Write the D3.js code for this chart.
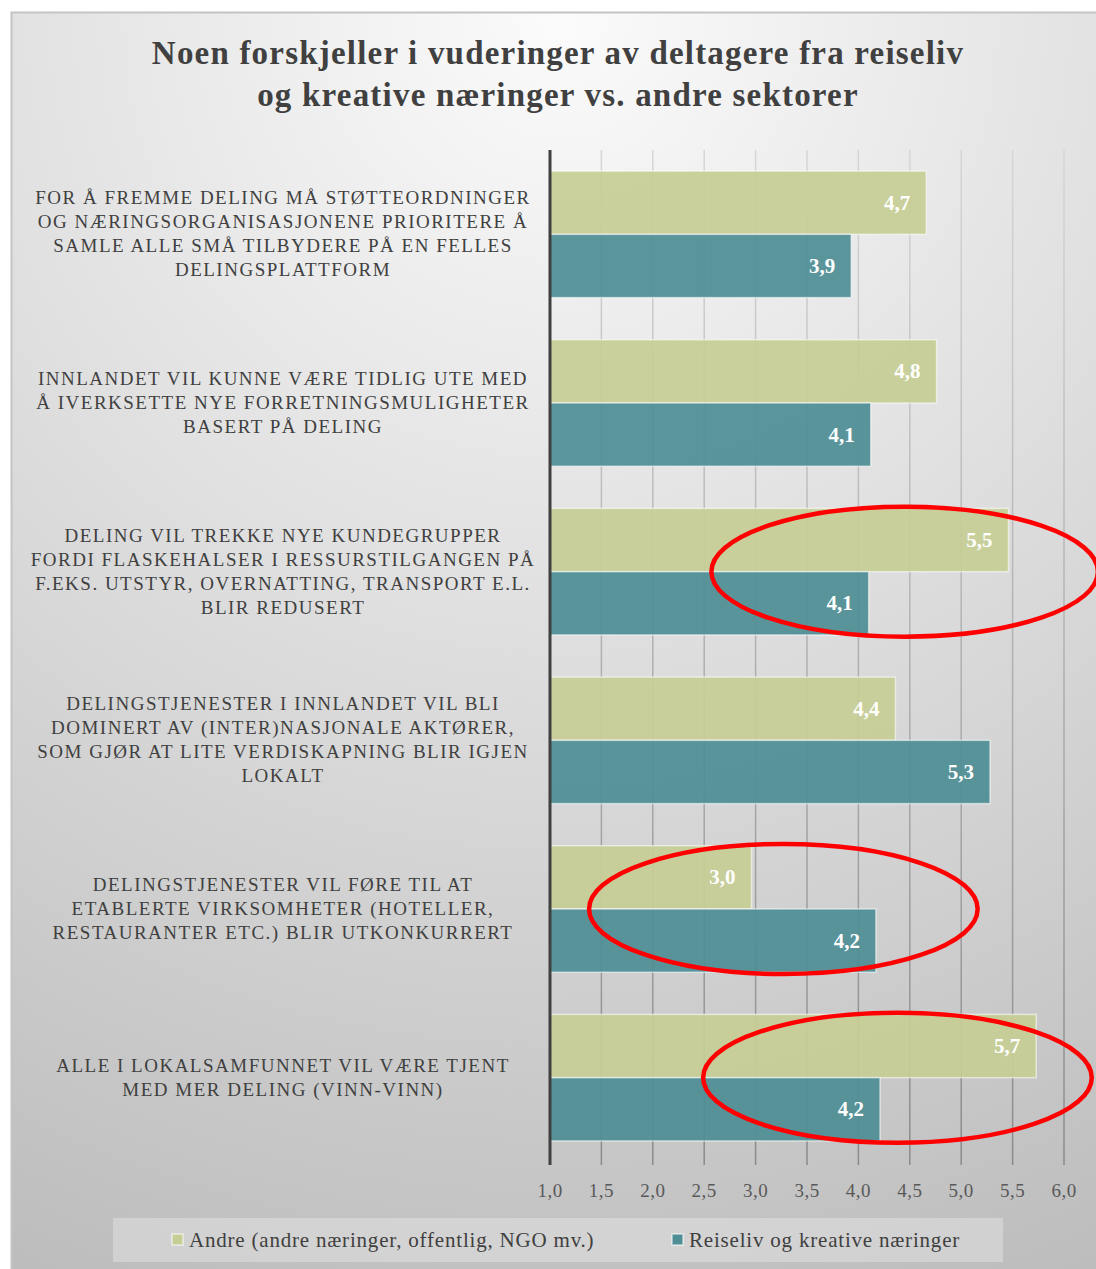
<!DOCTYPE html>
<html>
<head>
<meta charset="utf-8">
<script src="https://cdn.jsdelivr.net/npm/d3@7"></script>
<style>
  body { margin: 0; background: #fff; }
  text { font-family: "Liberation Serif", "DejaVu Serif", serif; }
</style>
</head>
<body>
<div id="chart"></div>
<script>
var w = 1096,
    h = 1269;

// data
var categories = [
    ["FOR Å FREMME DELING MÅ STØTTEORDNINGER", "OG NÆRINGSORGANISASJONENE PRIORITERE Å", "SAMLE ALLE SMÅ TILBYDERE PÅ EN FELLES", "DELINGSPLATTFORM"],
    ["INNLANDET VIL KUNNE VÆRE TIDLIG UTE MED", "Å IVERKSETTE NYE FORRETNINGSMULIGHETER", "BASERT PÅ DELING"],
    ["DELING VIL TREKKE NYE KUNDEGRUPPER", "FORDI FLASKEHALSER I RESSURSTILGANGEN PÅ", "F.EKS. UTSTYR, OVERNATTING, TRANSPORT E.L.", "BLIR REDUSERT"],
    ["DELINGSTJENESTER I INNLANDET VIL BLI", "DOMINERT AV (INTER)NASJONALE AKTØRER,", "SOM GJØR AT LITE VERDISKAPNING BLIR IGJEN", "LOKALT"],
    ["DELINGSTJENESTER VIL FØRE TIL AT", "ETABLERTE VIRKSOMHETER (HOTELLER,", "RESTAURANTER ETC.) BLIR UTKONKURRERT"],
    ["ALLE I LOKALSAMFUNNET VIL VÆRE TJENT", "MED MER DELING (VINN-VINN)"]
];
var andre = [4.66, 4.76, 5.46, 4.36, 2.96, 5.73];
var reiseliv = [3.93, 4.12, 4.10, 5.28, 4.17, 4.21];
var seriesNames = ["Andre (andre næringer, offentlig, NGO mv.)", "Reiseliv og kreative næringer"];
var tickValues = [1.0, 1.5, 2.0, 2.5, 3.0, 3.5, 4.0, 4.5, 5.0, 5.5, 6.0];
// red hand-drawn rings: category index, centre value, half width in value units
var rings = [
    { cat: 2, cx: 4.45, rx: 1.88 },
    { cat: 4, cx: 3.27, rx: 1.89 },
    { cat: 5, cx: 4.38, rx: 1.89 }
];

var palette = {
    green: '#c6cd95',
    teal: '#4f8e95',
    text: '#404040',
    ring: '#ff0000'
};

var svg = d3.select('#chart')
    .append('svg')
    .attr('width', w)
    .attr('height', h);

var defs = svg.append('defs');
var bg = defs.append('radialGradient')
    .attr('id', 'bg')
    .attr('gradientUnits', 'userSpaceOnUse')
    .attr('cx', 560).attr('cy', 20).attr('r', 1350);
bg.append('stop').attr('offset', '0%').attr('stop-color', '#fbfbfb');
bg.append('stop').attr('offset', '100%').attr('stop-color', '#bdbdbd');

var gridGrad = defs.append('linearGradient')
    .attr('id', 'grid')
    .attr('gradientUnits', 'userSpaceOnUse')
    .attr('x1', 0).attr('y1', 150).attr('x2', 0).attr('y2', 1165);
gridGrad.append('stop').attr('offset', '0%').attr('stop-color', '#d6d6d6');
gridGrad.append('stop').attr('offset', '100%').attr('stop-color', '#8a8a8a');

// panel
svg.append('rect')
    .attr('x', 11).attr('y', 12)
    .attr('width', w - 11).attr('height', h - 12)
    .attr('fill', 'url(#bg)');
svg.append('path')
    .attr('d', 'M11.5,' + h + 'V12.5H' + w)
    .attr('fill', 'none')
    .attr('stroke', '#c4c4c4')
    .attr('stroke-width', 2);

// title
svg.append('text')
    .attr('x', 558).attr('y', 64)
    .attr('text-anchor', 'middle')
    .attr('font-size', 33).attr('font-weight', 'bold')
    .attr('letter-spacing', 1.2)
    .attr('fill', palette.text)
    .selectAll('tspan')
    .data(["Noen forskjeller i vuderinger av deltagere fra reiseliv", "og kreative næringer vs. andre sektorer"])
    .enter().append('tspan')
    .attr('x', 558)
    .attr('dy', function(d, i) { return i ? 42 : 0 })
    .text(function(d) { return d });

var x = d3.scaleLinear().domain([1, 6]).range([550, 1064]);

var y0 = d3.scaleBand()
    .domain(d3.range(categories.length))
    .range([150, 1162])
    .paddingInner(0.25)
    .paddingOuter(0.125);

var y1 = d3.scaleBand()
    .domain([0, 1])
    .range([0, y0.bandwidth()]);

// gridlines
svg.append('g')
    .selectAll('line')
    .data(tickValues.slice(1))
    .enter().append('line')
    .attr('x1', function(d) { return x(d) })
    .attr('x2', function(d) { return x(d) })
    .attr('y1', 150)
    .attr('y2', 1165)
    .attr('stroke', 'url(#grid)')
    .attr('stroke-width', 1.5);

// bars
var rows = categories.map(function(c, i) {
    return { i: i, values: [andre[i], reiseliv[i]] };
});

var group = svg.append('g')
    .selectAll('g')
    .data(rows)
    .enter().append('g')
    .attr('transform', function(d) { return 'translate(0,' + y0(d.i) + ')' });

var bar = group.selectAll('g')
    .data(function(d) { return d.values.map(function(v, s) { return { s: s, v: v } }) })
    .enter().append('g');

bar.append('rect')
    .attr('x', x(1))
    .attr('y', function(d) { return y1(d.s) })
    .attr('width', function(d) { return x(d.v) - x(1) })
    .attr('height', y1.bandwidth())
    .attr('fill', function(d) { return d.s ? palette.teal : palette.green })
    .attr('fill-opacity', 0.93)
    .attr('stroke', 'rgba(255,255,255,0.55)')
    .attr('stroke-width', 1.5);

var fmt = d3.format('.1f');
bar.append('text')
    .attr('x', function(d) { return x(d.v) - 16 })
    .attr('y', function(d) { return y1(d.s) + y1.bandwidth() / 2 + 7 })
    .attr('text-anchor', 'end')
    .attr('font-size', 21)
    .attr('font-weight', 'bold')
    .attr('fill', '#fff')
    .text(function(d) { return fmt(d.v).replace('.', ',') });

// category labels
var lineH = 24;
svg.append('g')
    .selectAll('text')
    .data(categories)
    .enter().append('text')
    .attr('text-anchor', 'middle')
    .attr('font-size', 19)
    .attr('letter-spacing', 1.5)
    .attr('fill', palette.text)
    .each(function(lines, i) {
        var cy = y0(i) + y0.bandwidth() / 2;
        var top = cy - (lines.length - 1) * lineH / 2 + 6;
        d3.select(this).selectAll('tspan')
            .data(lines)
            .enter().append('tspan')
            .attr('x', 283)
            .attr('y', function(d, k) { return top + k * lineH })
            .text(function(d) { return d });
    });

// axis line
svg.append('line')
    .attr('x1', x(1)).attr('x2', x(1))
    .attr('y1', 150).attr('y2', 1165)
    .attr('stroke', '#404040')
    .attr('stroke-width', 3);

// tick labels
svg.append('g')
    .selectAll('text')
    .data(tickValues)
    .enter().append('text')
    .attr('x', function(d) { return x(d) })
    .attr('y', 1197)
    .attr('text-anchor', 'middle')
    .attr('font-size', 19)
    .attr('letter-spacing', 0.5)
    .attr('fill', '#595959')
    .text(function(d) { return fmt(d).replace('.', ',') });

// red rings
svg.append('g')
    .selectAll('ellipse')
    .data(rings)
    .enter().append('ellipse')
    .attr('cx', function(d) { return x(d.cx) })
    .attr('cy', function(d) { return y0(d.cat) + y0.bandwidth() / 2 })
    .attr('rx', function(d) { return x(1 + d.rx) - x(1) })
    .attr('ry', 65)
    .attr('fill', 'none')
    .attr('stroke', palette.ring)
    .attr('stroke-width', 4.5);

// legend
svg.append('rect')
    .attr('x', 113).attr('y', 1218)
    .attr('width', 890).attr('height', 44)
    .attr('fill', 'rgba(255,255,255,0.28)');

var legend = svg.append('g')
    .selectAll('g')
    .data(seriesNames)
    .enter().append('g')
    .attr('transform', function(d, i) { return 'translate(' + (i ? 672 : 172) + ',1234)' });

legend.append('rect')
    .attr('width', 11).attr('height', 11)
    .attr('fill', function(d, i) { return i ? palette.teal : palette.green })
    .attr('stroke', 'rgba(255,255,255,0.6)')
    .attr('stroke-width', 1.5);

legend.append('text')
    .attr('x', 17).attr('y', 13)
    .attr('font-size', 21)
    .attr('letter-spacing', 0.8)
    .attr('fill', palette.text)
    .text(function(d) { return d });
</script>
</body>
</html>
